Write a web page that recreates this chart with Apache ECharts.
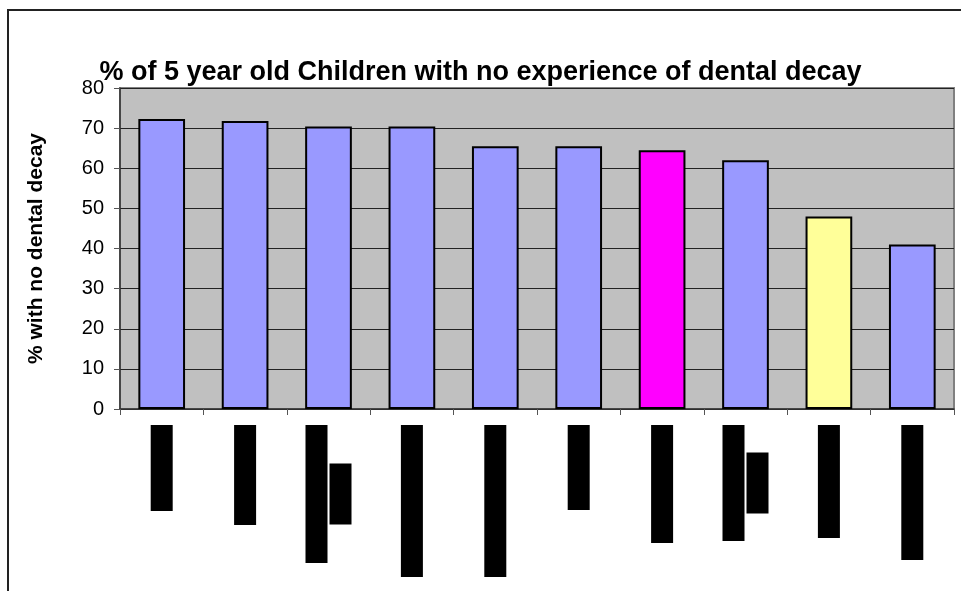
<!DOCTYPE html>
<html>
<head>
<meta charset="utf-8">
<title>Dental decay in 5 year olds</title>
<script src="https://cdn.jsdelivr.net/npm/echarts@6/dist/echarts.min.js"></script>
<style>
  html, body { margin: 0; padding: 0; background: #ffffff; }
  #chart { width: 961px; height: 591px; }
</style>
</head>
<body>
<div id="chart"></div>
<script>
// ---- data ----
const categories = [
  'Area A', 'Area B', 'Area C\nNorth', 'Area D', 'Area E',
  'Area F', 'Area G', 'Area H\nSouth', 'Area I', 'Area J'
];
const percentNoDecay = [72.3, 71.8, 70.4, 70.4, 65.5, 65.5, 64.5, 62.0, 48.0, 41.0];
const yTicks = [0, 10, 20, 30, 40, 50, 60, 70, 80];

const chartTitle = '% of 5 year old Children with no experience of dental decay';
const yAxisTitle = '% with no dental decay';

// ---- styling ----
const FONT = '"Liberation Sans", Arial, sans-serif';
const barFill = ['#9999FF', '#9999FF', '#9999FF', '#9999FF', '#9999FF',
                 '#9999FF', '#FF00FF', '#9999FF', '#FFFF99', '#9999FF'];
// length of the blacked-out box for each line of each category label
const labelBoxLengths = [[86], [100], [138, 61], [152], [152], [85], [118], [116, 61], [113], [135]];

const rich = {};
labelBoxLengths.forEach((lines, i) => {
  lines.forEach((len, j) => {
    rich['c' + i + '_' + j] = {
      width: len,
      height: 22,
      lineHeight: 24,
      align: 'center',
      backgroundColor: '#000000',
      color: '#000000',
      fontSize: 13,
      fontFamily: FONT,
      overflow: 'truncate'
    };
  });
});

const barData = percentNoDecay.map((v, i) => ({
  value: v,
  itemStyle: { color: barFill[i] }
}));

const chart = echarts.init(document.getElementById('chart'), null, { renderer: 'canvas' });

chart.setOption({
  animation: false,
  backgroundColor: '#ffffff',
  title: {
    text: chartTitle,
    left: 'center',
    top: 54,
    textStyle: { fontFamily: FONT, fontSize: 27, fontWeight: 'bold', color: '#000000' }
  },
  graphic: [{
    type: 'rect',
    shape: { x: 8, y: 10, width: 1000, height: 1000 },
    style: { fill: 'none', stroke: '#222222', lineWidth: 2 },
    silent: true,
    z: -1
  }],
  grid: {
    left: 120, right: 7, top: 88, bottom: 182,
    show: true,
    backgroundColor: '#C0C0C0',
    borderColor: '#808080',
    borderWidth: 2
  },
  xAxis: {
    type: 'category',
    data: categories,
    boundaryGap: true,
    axisLine: { lineStyle: { color: '#333333', width: 1.5 } },
    axisTick: { show: true, interval: 0, length: 6, lineStyle: { color: '#555555' } },
    axisLabel: {
      interval: 0,
      rotate: 90,
      margin: 16,
      formatter: (value, index) => value.split('\n')
        .map((line, j) => '{c' + index + '_' + j + '|' + line + '}')
        .join('\n'),
      rich: rich
    },
    splitLine: { show: false }
  },
  yAxis: {
    type: 'value',
    min: yTicks[0],
    max: yTicks[yTicks.length - 1],
    interval: yTicks[1] - yTicks[0],
    name: yAxisTitle,
    nameLocation: 'middle',
    nameRotate: 90,
    nameGap: 73,
    nameTextStyle: { fontFamily: FONT, fontSize: 21, fontWeight: 'bold', color: '#000000' },
    axisLine: { show: true, lineStyle: { color: '#333333', width: 1.5 } },
    axisTick: { show: true, length: 6, lineStyle: { color: '#555555' } },
    axisLabel: { margin: 16, fontFamily: FONT, fontSize: 20, color: '#000000' },
    splitLine: { show: true, lineStyle: { color: '#222222', width: 1.2 } }
  },
  series: [{
    type: 'bar',
    data: barData,
    barCategoryGap: '44%',
    itemStyle: { borderColor: '#000000', borderWidth: 2 }
  }]
});
</script>
</body>
</html>
